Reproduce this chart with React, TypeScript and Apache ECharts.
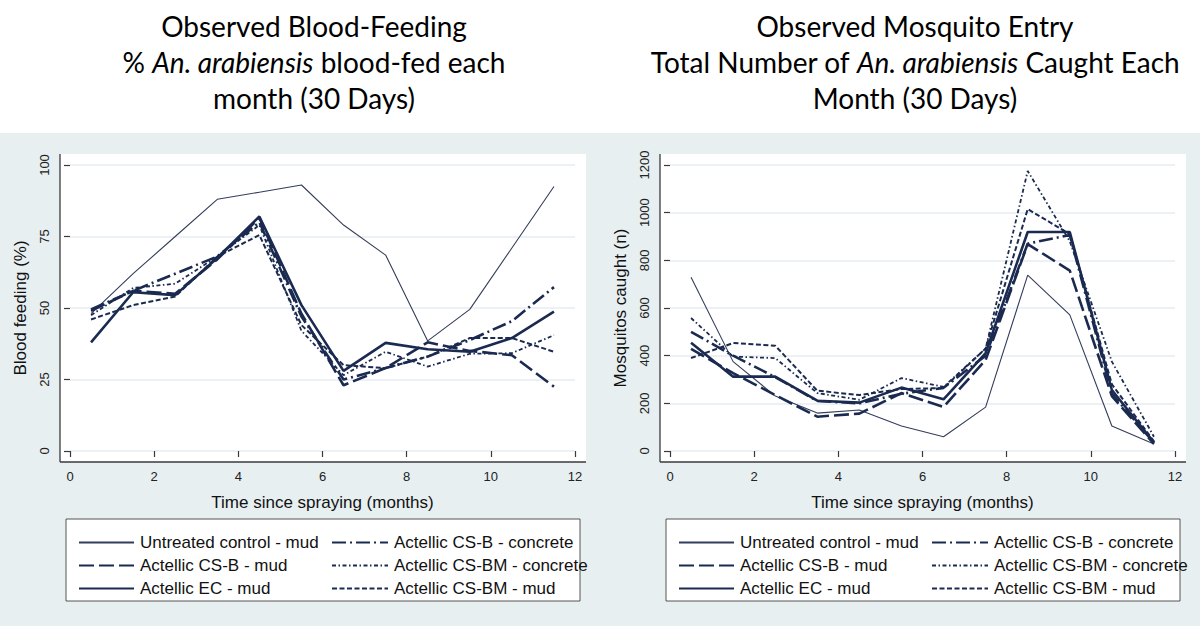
import React, { useEffect, useRef } from "react";
import * as echarts from "echarts";

const months = [0.5, 1.5, 2.5, 3.5, 4.5, 5.5, 6.5, 7.5, 8.5, 9.5, 10.5, 11.5];
const seriesNames = [
  "Untreated control - mud",
  "Actellic CS-B - mud",
  "Actellic EC - mud",
  "Actellic CS-B - concrete",
  "Actellic CS-BM - concrete",
  "Actellic CS-BM - mud",
];

// Blood feeding (%)
const bfUntreated = [48, 62, 75, 88, 90.5, 93, 79, 68.5, 38.5, 49.5, 71, 92.5];
const bfCSBmud = [49, 56, 55, 67, 81.5, 48, 23, 29, 38, 35, 33.5, 22.5];
const bfECmud = [38, 55.5, 54.5, 67.5, 82, 51, 28, 37.8, 35.6, 34.7, 39.5, 48.7];
const bfCSBconcrete = [49.5, 56, 62, 68, 80, 47, 25, 29, 33, 38.8, 45.4, 57.3];
const bfCSBMconcrete = [47.5, 57, 58.5, 68, 79, 42, 26.5, 34.7, 29.5, 34, 34.2, 40.5];
const bfCSBMmud = [46, 51, 54, 68, 75.5, 44, 30, 29, 33, 39.5, 39.5, 34.7];

// Mosquitos caught (n)
const mcUntreated = [729, 375, 231, 159, 172, 105, 60, 184, 738, 571, 105, 29];
const mcCSBmud = [428, 327, 235, 144, 157, 243, 185, 382, 868, 757, 230, 30];
const mcECmud = [454, 312, 312, 211, 203, 266, 217, 411, 919, 919, 256, 35];
const mcCSBconcrete = [500, 400, 310, 210, 200, 240, 265, 400, 870, 906, 240, 35];
const mcCSBMconcrete = [558, 396, 390, 243, 215, 306, 269, 430, 1175, 880, 375, 60];
const mcCSBMmud = [390, 453, 442, 253, 235, 260, 264, 430, 1015, 910, 280, 40];

const bloodValues = [bfUntreated, bfCSBmud, bfECmud, bfCSBconcrete, bfCSBMconcrete, bfCSBMmud];
const mosqValues = [mcUntreated, mcCSBmud, mcECmud, mcCSBconcrete, mcCSBMconcrete, mcCSBMmud];

const xTickStep = 2;
const xMax = 12;
const bloodTickStep = 25;
const bloodMax = 100;
const mosqTickStep = 200;
const mosqMax = 1200;

const NAVY = "#1b2a50";
const FONT = "Liberation Sans, Arial, sans-serif";
const TITLE_FONT = "Lato, Open Sans, sans-serif";

const lineStyles: any[] = [
  { type: "solid", width: 1.1, color: "#333d5c" },
  { type: [15, 5], width: 2.6, color: NAVY },
  { type: "solid", width: 2.6, color: NAVY },
  { type: [14, 4, 2, 4], width: 2.6, color: NAVY },
  { type: [4, 2.5, 1.5, 2.5], width: 1.8, color: NAVY },
  { type: [5, 2.5], width: 2, color: NAVY },
];

function makeAxes(idx: number, yMax: number, yStep: number, yName: string) {
  const xAxis = {
    gridIndex: idx,
    type: "value",
    min: 0,
    max: xMax,
    interval: xTickStep,
    offset: 11,
    axisLine: { show: false },
    axisTick: { show: true, length: 6, lineStyle: { color: "#3a3a3a", width: 1.2 } },
    axisLabel: { margin: 8, fontSize: 13, color: "#222", fontFamily: FONT },
    splitLine: { show: false },
    name: "Time since spraying (months)",
    nameLocation: "middle",
    nameGap: 32,
    nameTextStyle: { fontSize: 17, color: "#111", fontFamily: FONT, verticalAlign: "top" },
  };
  const yAxis = {
    gridIndex: idx,
    type: "value",
    min: 0,
    max: yMax,
    interval: yStep,
    offset: 10,
    axisLine: { show: false },
    axisTick: { show: true, length: 6, lineStyle: { color: "#3a3a3a", width: 1.2 } },
    axisLabel: {
      rotate: 90,
      margin: 9,
      fontSize: 13,
      color: "#222",
      fontFamily: FONT,
      formatter: (v: number) => String(v),
    },
    splitLine: { show: true, lineStyle: { color: "#e4edf0", width: 1.5 } },
    name: yName,
    nameLocation: "middle",
    nameGap: 31,
    nameTextStyle: { fontSize: 17, color: "#111", fontFamily: FONT },
  };
  return { xAxis, yAxis };
}

function panelGraphics(ox: number) {
  return [
    { type: "rect", z: -1, shape: { x: ox + 60, y: 154, width: 526, height: 308 }, style: { fill: "#ffffff" } },
    { type: "line", z: 10, shape: { x1: ox + 60, y1: 154, x2: ox + 60, y2: 462 }, style: { stroke: "#3a3a3a", lineWidth: 1.3 } },
    { type: "line", z: 10, shape: { x1: ox + 60, y1: 462, x2: ox + 586, y2: 462 }, style: { stroke: "#3a3a3a", lineWidth: 1.3 } },
    { type: "rect", z: -1, shape: { x: ox + 66, y: 519, width: 514, height: 82 }, style: { fill: "#ffffff", stroke: "#555555", lineWidth: 1 } },
  ];
}

function titleText(x: number, y: number, text: string) {
  return {
    type: "text",
    z: 10,
    x,
    y,
    style: {
      text,
      align: "center",
      verticalAlign: "middle",
      fill: "#000",
      fontSize: 28,
      fontFamily: TITLE_FONT,
      rich: {
        n: { fontSize: 28, fontFamily: TITLE_FONT, fill: "#000" },
        i: { fontSize: 28, fontFamily: TITLE_FONT, fontStyle: "italic", fill: "#000" },
      },
    },
  };
}

export default function App() {
  const ref = useRef<HTMLDivElement>(null);
  useEffect(() => {
    if (!ref.current) return;
    const chart = echarts.init(ref.current, undefined, { renderer: "svg" });
    const a0 = makeAxes(0, bloodMax, bloodTickStep, "Blood feeding (%)");
    const a1 = makeAxes(1, mosqMax, mosqTickStep, "Mosquitos caught (n)");
    const series: any[] = [];
    [bloodValues, mosqValues].forEach((set, gi) => {
      set.forEach((vals, si) => {
        series.push({
          type: "line",
          name: seriesNames[si],
          xAxisIndex: gi,
          yAxisIndex: gi,
          data: months.map((m, k) => [m, vals[k]]),
          symbol: "none",
          showSymbol: false,
          lineStyle: lineStyles[si],
          itemStyle: { color: lineStyles[si].color },
          z: 2 + (si === 0 ? 0 : 1),
        });
      });
    });
    const legendBase = (left: number, names: string[], w: number) => ({
      orient: "vertical",
      left,
      top: 529,
      itemWidth: w,
      itemHeight: 14,
      itemGap: 6,
      selectedMode: false,
      data: names,
      itemStyle: { opacity: 0 },
      textStyle: { fontSize: 17, lineHeight: 17, color: "#111", fontFamily: FONT, padding: [0, 0, 0, 1] },
    });
    chart.setOption({
      animation: false,
      backgroundColor: "#ffffff",
      grid: [
        { left: 70, top: 165, width: 505, height: 286 },
        { left: 670, top: 165, width: 505, height: 286 },
      ],
      xAxis: [a0.xAxis, a1.xAxis],
      yAxis: [a0.yAxis, a1.yAxis],
      legend: [
        legendBase(73, seriesNames.slice(0, 3), 55),
        legendBase(326, seriesNames.slice(3), 56),
        legendBase(673, seriesNames.slice(0, 3), 55),
        legendBase(926, seriesNames.slice(3), 56),
      ],
      graphic: [
        { type: "rect", z: -2, shape: { x: 0, y: 133, width: 1200, height: 493 }, style: { fill: "#e7eff1" } },
        ...panelGraphics(0),
        ...panelGraphics(600),
        titleText(314, 26, "Observed Blood-Feeding"),
        titleText(314, 62, "{n|% }{i|An. arabiensis}{n| blood-fed each}"),
        titleText(314, 98, "month (30 Days)"),
        titleText(915, 26, "Observed Mosquito Entry"),
        titleText(915, 62, "{n|Total Number of }{i|An. arabiensis}{n| Caught Each}"),
        titleText(915, 98, "Month (30 Days)"),
      ],
      series,
    });
    return () => chart.dispose();
  }, []);
  return (
    <div
      ref={ref}
      style={{ position: "absolute", left: 0, top: 0, width: 1200, height: 626 }}
    />
  );
}
